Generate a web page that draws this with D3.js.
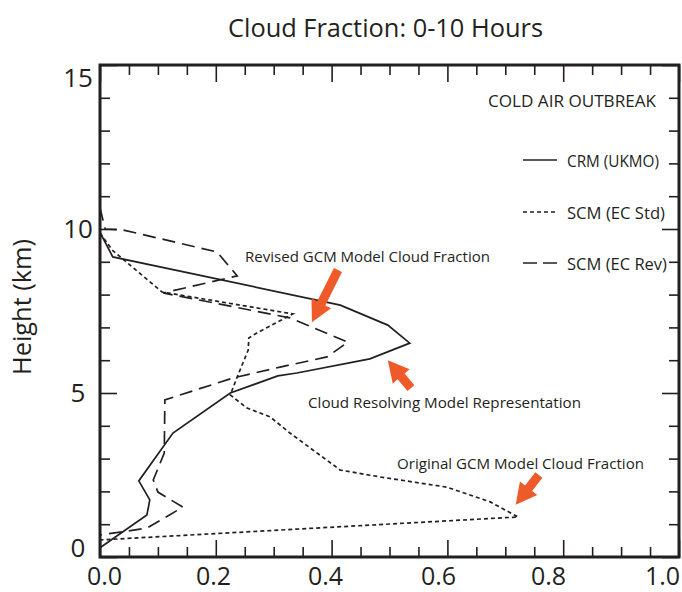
<!DOCTYPE html>
<html><head><meta charset="utf-8">
<script src="https://cdn.jsdelivr.net/npm/d3@7"></script>
<style>
body{margin:0;background:#fff}
svg{display:block;background:#fff}
text{font-family:"Open Sans","Noto Sans",sans-serif;fill:#231f20}
</style>
</head><body>
<svg id="c" width="682" height="592"></svg>
<script>
// ---- data ----
const xTickLabels = [0, 0.2, 0.4, 0.6, 0.8, 1.0];
const yTickLabels = [0, 5, 10, 15];

// CRM (UKMO)
const crmFrac   = [0.0, 0.081, 0.086, 0.067, 0.126, 0.225, 0.307, 0.340, 0.466, 0.535, 0.497, 0.415, 0.022, 0.0];
const crmHeight = [0.28, 1.28, 1.74, 2.32, 3.78, 5.0, 5.52, 5.61, 6.04, 6.52, 7.07, 7.68, 9.15, 9.9];

// SCM (EC Std)
const stdFrac   = [0.0, 0.021, 0.107, 0.333, 0.271, 0.257, 0.256, 0.237, 0.225, 0.254, 0.294, 0.328, 0.415, 0.484, 0.599, 0.674, 0.722, 0.0];
const stdHeight = [9.88, 9.36, 8.08, 7.41, 6.83, 6.68, 6.31, 5.49, 4.94, 4.54, 4.27, 3.78, 2.65, 2.44, 2.13, 1.68, 1.22, 0.52];

// SCM (EC Rev)
const revFrac   = [0.0, 0.009, 0.04, 0.202, 0.237, 0.109, 0.328, 0.428, 0.392, 0.311, 0.230, 0.112, 0.111, 0.092, 0.100, 0.143, 0.081, 0.0];
const revHeight = [10.64, 10.0, 9.97, 9.3, 8.57, 8.05, 7.29, 6.55, 6.1, 5.79, 5.46, 4.79, 3.17, 2.35, 1.98, 1.52, 0.88, 0.67];

const seriesNames = ["CRM (UKMO)", "SCM (EC Std)", "SCM (EC Rev)"];

// annotation arrows (tail -> tip) in data units
const arrowTailFrac = [0.411, 0.537, 0.758];
const arrowTailH    = [8.75, 5.15, 2.5];
const arrowTipFrac  = [0.366, 0.497, 0.718];
const arrowTipH     = [7.16, 6.0, 1.59];

// ---- layout ----
const ink = "#231f20";
const orange = "#ef5a2b";
const svg = d3.select("#c");
const L = 100, R = 679, T = 65, B = 557;
const x = d3.scaleLinear([0, 1], [L, R]);
const y = d3.scaleLinear([0, 15], [B, T]);
// label placement scales (labels in the reference sit slightly off the ticks)
const xLab = d3.scaleLinear(xTickLabels, [104, 213, 325, 438, 548, 662]);
const yLab = d3.scaleLinear(yTickLabels, [547, 392, 228, 77]);

// title
svg.append("text").attr("x", 228).attr("y", 37)
  .attr("font-size", 25).attr("textLength", 315).attr("lengthAdjust", "spacingAndGlyphs")
  .text("Cloud Fraction: 0-10 Hours");

// y title
svg.append("text").attr("transform", "translate(31,375) rotate(-90)")
  .attr("font-size", 26).attr("textLength", 136).attr("lengthAdjust", "spacingAndGlyphs")
  .text("Height (km)");

// ticks
const xMinor = d3.range(0, 21).filter(i => i % 4 !== 0).map(i => i * 0.05);
const xMajor = xTickLabels;
const yMinor = d3.range(0, 16).filter(i => i % 5 !== 0);
const yMajor = yTickLabels;

function tickAxis(axis, tr, vals, len) {
  const g = svg.append("g").attr("transform", tr)
    .call(axis.tickValues(vals).tickSize(-len).tickFormat(""));
  g.select(".domain").remove();
  g.selectAll("line").attr("stroke", ink).attr("stroke-width", 1.6);
}
tickAxis(d3.axisBottom(x), `translate(0,${B})`, xMinor, 10);
tickAxis(d3.axisBottom(x), `translate(0,${B})`, xMajor, 17);
tickAxis(d3.axisTop(x), `translate(0,${T})`, xMinor, 10);
tickAxis(d3.axisTop(x), `translate(0,${T})`, xMajor, 17);
tickAxis(d3.axisLeft(y), `translate(${L},0)`, yMinor, 10);
tickAxis(d3.axisLeft(y), `translate(${L},0)`, yMajor, 17);
tickAxis(d3.axisRight(y), `translate(${R},0)`, yMinor, 10);
tickAxis(d3.axisRight(y), `translate(${R},0)`, yMajor, 17);

// tick labels
const gx = svg.append("g").attr("transform", "translate(0,585)")
  .call(d3.axisBottom(xLab).tickValues(xTickLabels).tickSize(0).tickFormat(d3.format(".1f")));
gx.select(".domain").remove();
gx.attr("font-size", 25).attr("font-family", '"Open Sans",sans-serif').style("color", ink);
gx.selectAll("text").attr("y", 0).attr("dy", 0);

const gy = svg.append("g").attr("transform", "translate(78,0)")
  .call(d3.axisLeft(yLab).tickValues(yTickLabels).tickSize(0).tickFormat(d3.format("d")));
gy.select(".domain").remove();
gy.attr("font-size", 26).attr("font-family", '"Open Sans",sans-serif').style("color", ink);
gy.selectAll("text").attr("x", 0).attr("dy", "0.36em").attr("text-anchor", "middle");

// lines
const line = d3.line().x(d => x(d[0])).y(d => y(d[1]));
const series = [
  { frac: crmFrac, h: crmHeight, dash: null },
  { frac: stdFrac, h: stdHeight, dash: "4,3" },
  { frac: revFrac, h: revHeight, dash: "13,7" }
];
series.forEach(s => {
  svg.append("path").datum(s.frac.map((v, i) => [v, s.h[i]]))
    .attr("d", line).attr("fill", "none").attr("stroke", ink)
    .attr("stroke-width", 1.7).attr("stroke-linejoin", "miter")
    .attr("stroke-dasharray", s.dash);
});

// frame
svg.append("rect").attr("x", L).attr("y", T).attr("width", R - L).attr("height", B - T)
  .attr("fill", "none").attr("stroke", ink).attr("stroke-width", 3);

// case label
svg.append("text").attr("x", 488).attr("y", 107).attr("font-size", 16)
  .attr("textLength", 168).attr("lengthAdjust", "spacingAndGlyphs").text("COLD AIR OUTBREAK");

// legend
const legY = [160, 212, 263];
const legLen = [92, 98, 100];
const legDash = [null, "4,3", "14,6"];
seriesNames.forEach((n, i) => {
  svg.append("line").attr("x1", 523).attr("x2", 557).attr("y1", legY[i]).attr("y2", legY[i])
    .attr("stroke", ink).attr("stroke-width", 1.7).attr("stroke-dasharray", legDash[i]);
  svg.append("text").attr("x", 567).attr("y", legY[i] + 7).attr("font-size", 17)
    .attr("textLength", legLen[i]).attr("lengthAdjust", "spacingAndGlyphs").text(n);
});

// annotations
const notes = [
  { t: "Revised GCM Model Cloud Fraction", x: 245, y: 262, w: 245 },
  { t: "Cloud Resolving Model Representation", x: 308, y: 408, w: 273 },
  { t: "Original GCM Model Cloud Fraction", x: 397, y: 469, w: 247 }
];
notes.forEach(n => {
  svg.append("text").attr("x", n.x).attr("y", n.y).attr("font-size", 15)
    .attr("textLength", n.w).attr("lengthAdjust", "spacingAndGlyphs").text(n.t);
});

// arrows
arrowTailFrac.forEach((_, i) => {
  const x0 = x(arrowTailFrac[i]), y0 = y(arrowTailH[i]);
  const x1 = x(arrowTipFrac[i]), y1 = y(arrowTipH[i]);
  const dx = x1 - x0, dy = y1 - y0, len = Math.hypot(dx, dy);
  const ux = dx / len, uy = dy / len, px = -uy, py = ux;
  const sw = 4.5, hw = 11, hl = 21;
  const bx = x1 - ux * hl, by = y1 - uy * hl;
  const pts = [
    [x0 + px * sw, y0 + py * sw], [bx + px * sw, by + py * sw], [bx + px * hw, by + py * hw],
    [x1, y1], [bx - px * hw, by - py * hw], [bx - px * sw, by - py * sw], [x0 - px * sw, y0 - py * sw]
  ];
  svg.append("polygon").attr("points", pts.map(p => p.join(",")).join(" ")).attr("fill", orange);
});
</script>
</body></html>
